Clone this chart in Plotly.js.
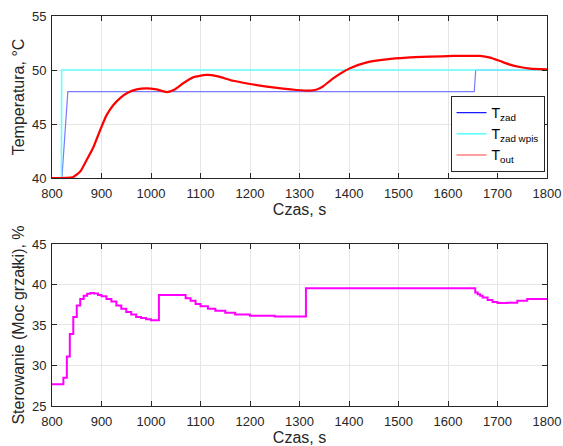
<!DOCTYPE html>
<html>
<head>
<meta charset="utf-8">
<script src="https://cdn.plot.ly/plotly-3.0.1.min.js"></script>
<style>html,body{margin:0;padding:0;background:#fff}#chart{width:563px;height:446px}</style>
</head>
<body>
<div id="chart"></div>
<script>
// Setpoint T_zad
const tzadX = [800, 820, 832, 1653, 1656, 1800];
const tzadY = [40, 40, 48, 48, 50, 50];
// Setpoint T_zad wpis
const twpisX = [800, 819, 819.5, 1800];
const twpisY = [40, 40, 50, 50];
// Output temperature
const toutX = [800, 843, 857, 870, 884, 897, 910, 924, 937, 951, 971, 991, 1011, 1032, 1048, 1065, 1085, 1112, 1133, 1166, 1200, 1234, 1267, 1294, 1321, 1335, 1348, 1368, 1402, 1436, 1476, 1517, 1564, 1611, 1665, 1685, 1705, 1725, 1745, 1766, 1800];
const toutY = [40, 40.1, 40.6, 41.67, 42.9, 44.4, 45.8, 46.76, 47.38, 47.84, 48.2, 48.3, 48.2, 47.96, 48.2, 48.77, 49.32, 49.54, 49.44, 49.0, 48.7, 48.46, 48.27, 48.15, 48.09, 48.2, 48.5, 49.23, 50.16, 50.71, 50.99, 51.14, 51.23, 51.3, 51.3, 51.14, 50.83, 50.5, 50.28, 50.12, 50.05];
// Control signal (heater power)
const uX = [800, 823, 830, 836, 843, 850, 857, 864, 871, 878, 885, 893, 900, 910, 920, 930, 940, 950, 960, 970, 980, 990, 1000, 1016, 1060, 1070, 1080, 1090, 1100, 1115, 1130, 1150, 1170, 1200, 1250, 1313, 1655, 1660, 1665, 1670, 1680, 1690, 1700, 1720, 1740, 1760, 1800];
const uY = [27.7, 28.5, 31.1, 33.9, 36.0, 37.4, 38.2, 38.6, 38.85, 38.95, 38.9, 38.7, 38.55, 38.2, 37.9, 37.4, 37.0, 36.6, 36.3, 36.0, 35.85, 35.7, 35.6, 38.7, 38.7, 38.3, 38.0, 37.6, 37.3, 37.0, 36.75, 36.5, 36.3, 36.15, 36.05, 39.55, 39.0, 38.8, 38.6, 38.4, 38.1, 37.85, 37.7, 37.75, 38.0, 38.2, 38.2];
const xTicks = [800, 900, 1000, 1100, 1200, 1300, 1400, 1500, 1600, 1700, 1800];
const legendNames = ['T<sub>zad</sub>', 'T<sub>zad wpis</sub>', 'T<sub>out</sub>'];

const ff = 'Liberation Sans, Arial, sans-serif';
const tickFont = {family: ff, size: 13, color: '#262626'};
const titleFont = {family: ff, size: 16, color: '#262626'};
const traces = [
  {x: tzadX, y: tzadY, mode: 'lines', showlegend: false, line: {color: '#7a7aff', width: 1.2}, xaxis: 'x', yaxis: 'y'},
  {x: twpisX, y: twpisY, mode: 'lines', showlegend: false, line: {color: '#66ffff', width: 1.6}, xaxis: 'x', yaxis: 'y'},
  {x: toutX, y: toutY, mode: 'lines', showlegend: false, line: {color: '#ff0000', width: 2.2, shape: 'spline', smoothing: 0.5}, xaxis: 'x', yaxis: 'y'},
  {x: uX, y: uY, mode: 'lines', showlegend: false, line: {color: '#ff00ff', width: 2, shape: 'hv'}, xaxis: 'x2', yaxis: 'y2'},
  // legend-only entries (thin lines, as in the reference legend)
  {x: [null], y: [null], mode: 'lines', name: legendNames[0], line: {color: '#1a1aff', width: 1.2}, xaxis: 'x', yaxis: 'y'},
  {x: [null], y: [null], mode: 'lines', name: legendNames[1], line: {color: '#33ffff', width: 1.2}, xaxis: 'x', yaxis: 'y'},
  {x: [null], y: [null], mode: 'lines', name: legendNames[2], line: {color: '#ff4040', width: 1.2}, xaxis: 'x', yaxis: 'y'}
];
const axBase = {
  showline: true, mirror: 'ticks', linecolor: '#262626', linewidth: 1,
  ticks: 'inside', ticklen: 5, tickcolor: '#262626',
  showgrid: true, gridcolor: '#e6e6e6', zeroline: false, tickfont: tickFont
};
const layout = {
  width: 563, height: 446,
  margin: {l: 52, r: 16, t: 16, b: 40},
  paper_bgcolor: '#fff', plot_bgcolor: '#fff',
  font: tickFont,
  showlegend: true,
  legend: {x: 0.995, xanchor: 'right', y: 0.6, yanchor: 'bottom', bgcolor: '#fff', bordercolor: '#262626', borderwidth: 1, font: {family: ff, size: 14, color: '#000'}, tracegroupgap: 0},
  xaxis: Object.assign({}, axBase, {domain: [0, 1], range: [800, 1800], tickvals: xTicks, anchor: 'y', ticklabelstandoff: 3, title: {text: 'Czas, s', font: titleFont, standoff: 1}}),
  yaxis: Object.assign({}, axBase, {domain: [0.5846, 1], range: [40, 55], tickvals: [40, 45, 50, 55], anchor: 'x', ticklabelstandoff: 2, title: {text: 'Temperatura, °C', font: titleFont, standoff: 3}}),
  xaxis2: Object.assign({}, axBase, {domain: [0, 1], range: [800, 1800], tickvals: xTicks, anchor: 'y2', ticklabelstandoff: 3, title: {text: 'Czas, s', font: titleFont, standoff: 1}}),
  yaxis2: Object.assign({}, axBase, {domain: [0, 0.4154], range: [25, 45], tickvals: [25, 30, 35, 40, 45], anchor: 'x2', ticklabelstandoff: 2, title: {text: 'Sterowanie (Moc grzałki), %', font: titleFont, standoff: 3}})
};
Plotly.newPlot('chart', traces, layout, {displayModeBar: false, staticPlot: true});
</script>
</body>
</html>
